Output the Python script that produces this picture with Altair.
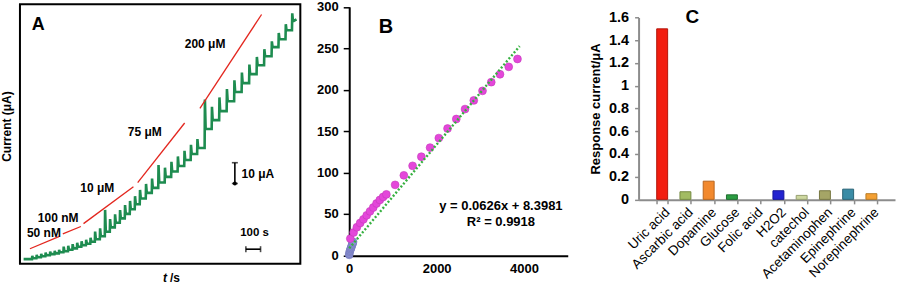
import altair as alt
import pandas as pd

FONT = "Liberation Sans"

# ---------------- Panel A : amperometric i-t trace ----------------
a_start = [25, 2.2]          # [time s, current uA]
a_end = [1884, 117.6]
a_step_time = [82, 112, 143, 173, 204, 235, 265,
               296, 327, 357, 388, 418, 449, 479,
               510, 544, 578, 612, 646, 680, 714, 748, 782,
               816, 857, 898, 942, 986, 1030, 1074, 1119, 1163, 1207,
               1258, 1306, 1357, 1408, 1459, 1510, 1561, 1612, 1663, 1714, 1761, 1809, 1853]
a_step_peak = [3.8, 4.3, 4.8, 5.3, 5.8, 6.2, 6.7,
               8.2, 8.6, 9.4, 10.1, 10.8, 11.5, 12.5,
               15.5, 17.0, 25.9, 21.5, 23.8, 25.8, 28.2, 30.2, 32.5,
               35.5, 38.4, 41.0, 47.5, 46.2, 49.0, 51.6, 54.3, 57.2, 60.0,
               79.0, 75.5, 80.0, 84.0, 88.2, 92.0, 95.8, 99.5, 103.2, 107.0, 111.0, 115.2, 120.5]
a_step_level = [2.6, 3.1, 3.6, 4.1, 4.6, 5.0, 5.5,
                6.0, 6.7, 7.4, 8.2, 8.9, 9.6, 10.6,
                11.8, 13.2, 15.4, 17.5, 19.7, 21.8, 24.0, 26.2, 28.6,
                31.4, 34.1, 36.5, 39.1, 41.8, 44.4, 47.0, 49.9, 52.8, 55.7,
                64.8, 69.1, 73.4, 78.2, 82.6, 86.9, 91.2, 95.5, 99.8, 104.2, 108.0, 112.3, 116.6]

# red guide segments
a_seg_t0 = [68, 292, 433, 802, 1226]
a_seg_i0 = [7.2, 14.4, 19.3, 39.0, 74.7]
a_seg_t1 = [265, 415, 773, 1122, 1646]
a_seg_i1 = [13.0, 17.9, 37.0, 67.7, 119.9]

a_lab_text = ["50 nM", "100 nM", "10 μM", "75 μM", "200 μM"]
a_lab_t = [163, 260, 527, 850, 1261]
a_lab_i = [15.0, 22.2, 36.2, 63.4, 105.8]

# scale bars: 10 uA vertical, 100 s horizontal
a_vbar_t = 1464
a_vbar_i = [38.6, 48.6]
a_hbar_t = [1539, 1639]
a_hbar_i = 7.0

# ---------------- Panel B : calibration ----------------
b_low_conc = [0, 1, 10, 20, 30, 40, 50, 60, 70, 80, 90]
b_low_resp = [0.4, 1.8, 4.2, 5.6, 7.3, 8.6, 10.1, 11.8, 13.0, 14.6, 16.2]
b_conc = [25, 100, 175, 250, 325, 400, 475, 550, 625, 700, 775, 850,
          1050, 1250, 1450, 1650, 1850, 2050, 2250, 2450, 2650, 2850,
          3050, 3250, 3450, 3650, 3850]
b_resp = [20.1, 27.5, 33.8, 38.9, 43.4, 48.2, 53.0, 57.6, 62.5, 66.8, 70.4, 73.5,
          85.0, 96.5, 108.0, 119.0, 130.0, 141.5, 153.0, 164.5, 176.5, 187.0,
          198.5, 209.0, 218.5, 227.5, 237.0]
b_slope = 0.0626
b_intercept = 8.3981
b_fit_x = [0, 3900]

# ---------------- Panel C : selectivity ----------------
c_species = ["Uric acid", "Ascarbic acid", "Dopamine", "Glucose", "Folic acid",
             "H2O2", "catechol", "Acetaminophen", "Epinephrine", "Norepinephrine"]
c_value = [1.50, 0.067, 0.16, 0.04, 0.0, 0.076, 0.035, 0.076, 0.09, 0.05]
c_fill = ["#f21d0f", "#a2bb62", "#f2892e", "#2b9d42", "transparent",
          "#2222d0", "#cdd79f", "#a5a566", "#3a8ca6", "#f4a033"]
c_edge = ["#b3160b", "#748a40", "#b8651e", "#1f6e2f", "transparent",
          "#151599", "#97a070", "#767640", "#2a6475", "#b87a25"]

# ======================= build Panel A =======================
rows = [{"k": 0, "t": a_start[0], "i": a_start[1]}]
prev = a_start[1]
for t, pk, lv in zip(a_step_time, a_step_peak, a_step_level):
    rows.append({"k": len(rows), "t": t, "i": prev})
    rows.append({"k": len(rows), "t": t + 2, "i": pk})
    rows.append({"k": len(rows), "t": t + 7, "i": lv})
    prev = lv
rows.append({"k": len(rows), "t": a_end[0], "i": a_end[1]})
trace = pd.DataFrame(rows)

ax_sc = alt.Scale(domain=[0, 1910], nice=False, zero=False)
ay_sc = alt.Scale(domain=[0, 124.8], nice=False, zero=False)
ay_axis = alt.Axis(title="Current (μA)", labels=False, ticks=False, domain=False, grid=False,
                   titleFont=FONT, titleFontSize=12, titleFontWeight="bold", titleColor="black",
                   titlePadding=6, titleY=122)


def AX(f):
    return alt.X(f, type="quantitative", scale=ax_sc, axis=None)


def AY(f):
    return alt.Y(f, type="quantitative", scale=ay_sc, axis=ay_axis)


a_line = alt.Chart(trace).mark_line(color="#1e8c50", strokeWidth=2.6, strokeJoin="miter").encode(
    x=AX("t"), y=AY("i"), order="k:Q")

seg = pd.DataFrame({"t0": a_seg_t0, "i0": a_seg_i0, "t1": a_seg_t1, "i1": a_seg_i1})
a_red = alt.Chart(seg).mark_rule(color="#e3261e", strokeWidth=1.3).encode(
    x=AX("t0"), y=AY("i0"), x2="t1", y2="i1")

labs = pd.DataFrame({"t": a_lab_t, "i": a_lab_i, "s": a_lab_text})
a_labs = alt.Chart(labs).mark_text(font=FONT, fontSize=12, fontWeight="bold", color="black").encode(
    x=AX("t"), y=AY("i"), text="s:N")

a_title = alt.Chart(pd.DataFrame({"t": [124], "i": [114.7], "s": ["A"]})).mark_text(
    font=FONT, fontSize=18, fontWeight="bold", color="black").encode(x=AX("t"), y=AY("i"), text="s:N")

vbar = pd.DataFrame({"t": [a_vbar_t], "i0": [a_vbar_i[0]], "i1": [a_vbar_i[1]]})
a_vbar = alt.Chart(vbar).mark_rule(color="black", strokeWidth=1.6).encode(x=AX("t"), y=AY("i0"), y2="i1")
vcap = pd.DataFrame({"t": [a_vbar_t, a_vbar_t], "i": a_vbar_i})
a_vcap = alt.Chart(vcap).mark_tick(orient="horizontal", size=6, thickness=1.6, color="black").encode(
    x=AX("t"), y=AY("i"))
a_vdot = alt.Chart(pd.DataFrame({"t": [a_vbar_t], "i": [a_vbar_i[0]]})).mark_point(
    filled=True, size=16, color="black", opacity=1).encode(x=AX("t"), y=AY("i"))
a_vtxt = alt.Chart(pd.DataFrame({"t": [1510], "i": [43.1], "s": ["10 μA"]})).mark_text(
    font=FONT, fontSize=12, fontWeight="bold", color="black", align="left").encode(
    x=AX("t"), y=AY("i"), text="s:N")

hbar = pd.DataFrame({"t0": [a_hbar_t[0]], "t1": [a_hbar_t[1]], "i": [a_hbar_i]})
a_hbar = alt.Chart(hbar).mark_rule(color="black", strokeWidth=1.6).encode(x=AX("t0"), x2="t1", y=AY("i"))
hcap = pd.DataFrame({"t": a_hbar_t, "i": [a_hbar_i, a_hbar_i]})
a_hcap = alt.Chart(hcap).mark_tick(orient="vertical", size=6, thickness=1.6, color="black").encode(
    x=AX("t"), y=AY("i"))
a_htxt = alt.Chart(pd.DataFrame({"t": [1598], "i": [15.0], "s": ["100 s"]})).mark_text(
    font=FONT, fontSize=11.5, fontWeight="bold", color="black").encode(x=AX("t"), y=AY("i"), text="s:N")

a_xt1 = alt.Chart(pd.DataFrame({"t": [988], "i": [-7.0], "s": ["t"]})).mark_text(
    font=FONT, fontSize=12, fontWeight="bold", fontStyle="italic", color="black").encode(
    x=AX("t"), y=AY("i"), text="s:N")
a_xt2 = alt.Chart(pd.DataFrame({"t": [1022], "i": [-7.0], "s": ["/s"]})).mark_text(
    font=FONT, fontSize=12, fontWeight="bold", color="black", align="left").encode(
    x=AX("t"), y=AY("i"), text="s:N")

panelA = alt.layer(a_line, a_red, a_labs, a_title, a_vbar, a_vcap, a_vdot, a_vtxt,
                   a_hbar, a_hcap, a_htxt, a_xt1, a_xt2).properties(
    width=281, height=260, view=alt.ViewBackground(stroke="black", strokeWidth=2))

# ======================= build Panel B =======================
bx_sc = alt.Scale(domain=[0, 5000], nice=False, zero=False)
by_sc = alt.Scale(domain=[0, 300], range=[251.5, 2.5], nice=False, zero=False)
bx_axis = alt.Axis(values=[0, 2000, 4000], format="d", title=None, grid=False, domainColor="black",
                   domainWidth=2, ticks=False, labelPadding=7, labelFont=FONT, labelFontWeight="bold",
                   labelFontSize=13, labelColor="black", labelFlush=False)
by_axis = alt.Axis(values=[0, 50, 100, 150, 200, 250, 300], format="d", title=None, grid=False,
                   domainColor="black", domainWidth=2, tickColor="black", tickSize=6, tickWidth=1.5,
                   labelPadding=5, labelFont=FONT, labelFontWeight="bold", labelFontSize=13,
                   labelColor="black", labelFlush=False)


def BX(f):
    return alt.X(f, type="quantitative", scale=bx_sc, axis=bx_axis)


def BY(f):
    return alt.Y(f, type="quantitative", scale=by_sc, axis=by_axis)


b_low = alt.Chart(pd.DataFrame({"c": b_low_conc, "r": b_low_resp})).mark_circle(
    size=60, color="#8a8fd2", opacity=1, stroke="#7378bb", strokeWidth=0.6).encode(x=BX("c"), y=BY("r"))
b_pts = alt.Chart(pd.DataFrame({"c": b_conc, "r": b_resp})).mark_circle(
    size=62, color="#e447da", opacity=1, stroke="#c43bba", strokeWidth=0.6).encode(x=BX("c"), y=BY("r"))
fit = pd.DataFrame({"c": b_fit_x, "r": [b_slope * v + b_intercept for v in b_fit_x]})
b_fit = alt.Chart(fit).mark_line(color="#36b040", strokeWidth=2.4, strokeDash=[2, 2]).encode(
    x=BX("c"), y=BY("r"))
b_eq = alt.Chart(pd.DataFrame({"c": [3471, 3471], "r": [59.4, 40.1],
                               "s": ["y = 0.0626x + 8.3981", "R² = 0.9918"]})).mark_text(
    font=FONT, fontSize=13, fontWeight="bold", color="black").encode(x=BX("c"), y=BY("r"), text="s:N")
b_title = alt.Chart(pd.DataFrame({"c": [840], "r": [276], "s": ["B"]})).mark_text(
    font=FONT, fontSize=20, fontWeight="bold", color="black").encode(x=BX("c"), y=BY("r"), text="s:N")

panelB = alt.layer(b_low, b_pts, b_fit, b_eq, b_title).properties(width=219, height=252)

# ======================= build Panel C =======================
cdf = pd.DataFrame({"species": c_species, "val": c_value})
cx_sc = alt.Scale(domain=c_species, paddingInner=0.53, paddingOuter=0.78)
cy_sc = alt.Scale(domain=[0, 1.6], range=[195.5, 13.2], nice=False, zero=True)
cx_axis = alt.Axis(title=None, labelAngle=-45, labelFont=FONT, labelFontSize=13.5, labelColor="black",
                   domainColor="#8c8c8c", domainWidth=2, tickColor="#8c8c8c", tickSize=4, tickWidth=1.5,
                   tickBand="extent", labelPadding=1, grid=False)
cy_axis = alt.Axis(title="Response current/μA", values=[0, 0.2, 0.4, 0.6, 0.8, 1, 1.2, 1.4, 1.6],
                   format="~g", labelFont=FONT, labelFontWeight="bold", labelFontSize=14.5,
                   labelColor="black", domainColor="#8c8c8c", domainWidth=2, tickColor="#8c8c8c",
                   tickSize=4, tickWidth=1.5, labelPadding=6, titleFont=FONT, titleFontSize=13,
                   titleFontWeight="bold", titleColor="black", titlePadding=6, grid=False,
                   labelFlush=False)

c_bars = alt.Chart(cdf).mark_bar(strokeWidth=1).encode(
    x=alt.X("species:N", scale=cx_sc, axis=cx_axis, sort=c_species),
    y=alt.Y("val:Q", scale=cy_sc, axis=cy_axis),
    fill=alt.Fill("species:N", scale=alt.Scale(domain=c_species, range=c_fill), legend=None),
    stroke=alt.Stroke("species:N", scale=alt.Scale(domain=c_species, range=c_edge), legend=None),
)
c_title = alt.Chart(pd.DataFrame({"species": ["Ascarbic acid"], "val": [1.6], "s": ["C"]})).mark_text(
    font=FONT, fontSize=19, fontWeight="bold", color="black", dx=7).encode(
    x=alt.X("species:N", scale=cx_sc, axis=cx_axis, sort=c_species),
    y=alt.Y("val:Q", scale=cy_sc, axis=cy_axis), text="s:N")

panelC = alt.layer(c_bars, c_title).properties(width=257, height=196)


def spacer(w):
    return alt.Chart(pd.DataFrame({"z": [0]})).mark_point(opacity=0).encode(
        x=alt.value(0), y=alt.value(0)).properties(width=w, height=10)


chart = alt.hconcat(panelA, spacer(49), panelB, spacer(71), panelC, spacing=0, bounds="flush").properties(
    padding={"left": 0, "top": 0, "right": 3, "bottom": 0}, background="white"
).configure(font=FONT).configure_view(stroke=None)

chart.save("out.html", embed_options={"renderer": "svg", "actions": False})
